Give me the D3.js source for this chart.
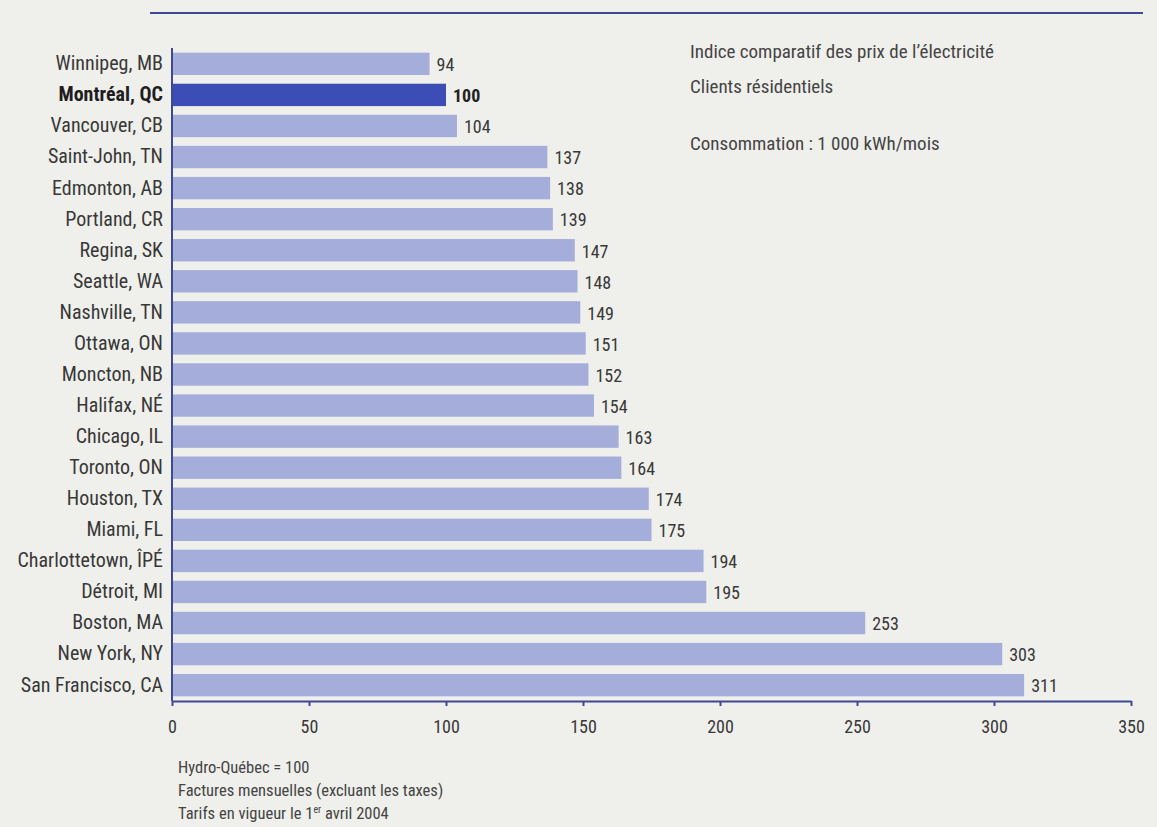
<!DOCTYPE html>
<html><head><meta charset="utf-8">
<script src="https://cdn.jsdelivr.net/npm/d3@7"></script>
<style>
html,body{margin:0;padding:0;background:#efefeb;}
svg{display:block;font-family:"Roboto Condensed","Liberation Sans Narrow","Arial Narrow",sans-serif;}
</style></head>
<body>
<svg id="chart" width="1157" height="827"></svg>
<script>
const cities = ["Winnipeg, MB","Montréal, QC","Vancouver, CB","Saint-John, TN","Edmonton, AB","Portland, CR","Regina, SK","Seattle, WA","Nashville, TN","Ottawa, ON","Moncton, NB","Halifax, NÉ","Chicago, IL","Toronto, ON","Houston, TX","Miami, FL","Charlottetown, ÎPÉ","Détroit, MI","Boston, MA","New York, NY","San Francisco, CA"];
const values = [94,100,104,137,138,139,147,148,149,151,152,154,163,164,174,175,194,195,253,303,311];
const highlight = "Montréal, QC";
const xTicks = [0,50,100,150,200,250,300,350];
const titleLines = ["Indice comparatif des prix de l’électricité","Clients résidentiels","Consommation : 1 000 kWh/mois"];
const noteLines = ["Hydro-Québec = 100","Factures mensuelles (excluant les taxes)"];

(function(){
const svg = d3.select("#chart");
const mLeft = 172, mRight = 1131, mTop = 48, mBottom = 701;
const x = d3.scaleLinear().domain([0,350]).range([mLeft,mRight]);
const y = d3.scaleBand().domain(cities).range([mTop,mBottom]).paddingInner(0.28).paddingOuter(0.15);

// top rule
svg.append("line").attr("x1",150).attr("x2",1143).attr("y1",13).attr("y2",13)
  .attr("stroke","#3d4a92").attr("stroke-width",2);

const data = cities.map((c,i)=>({c, v:values[i]}));
svg.append("g").selectAll("rect").data(data).join("rect")
  .attr("x",x(0)).attr("y",d=>y(d.c)).attr("width",d=>x(d.v)-x(0)).attr("height",y.bandwidth())
  .attr("fill",d=>d.c===highlight?"#3c4eb6":"#a5addb");

// value labels
svg.append("g").selectAll("text").data(data).join("text")
  .attr("x",d=>x(d.v)+7).attr("y",d=>y(d.c)+y.bandwidth()/2+1).attr("dy","0.35em")
  .attr("font-size",18).attr("fill",d=>d.c===highlight?"#222":"#383838")
  .attr("font-weight",d=>d.c===highlight?"bold":"normal")
  .text(d=>d.v);

// y axis
const ya = svg.append("g").attr("transform",`translate(${mLeft},0)`).call(d3.axisLeft(y).tickSize(0).tickPadding(9));
ya.attr("font-family",null);
ya.select(".domain").attr("stroke","#3d4a92").attr("stroke-width",2).attr("d",`M0,${mTop}V${mBottom}`);
ya.selectAll("text").attr("font-size",20)
  .attr("font-weight",d=>d===highlight?"bold":"normal")
  .attr("fill",d=>d===highlight?"#1e1e1e":"#383838");

// x axis
const xa = svg.append("g").attr("transform",`translate(0,${mBottom})`)
  .call(d3.axisBottom(x).tickValues(xTicks).tickSize(5).tickSizeOuter(0).tickPadding(14));
xa.attr("font-family",null);
xa.select(".domain").attr("stroke","#3d4a92").attr("stroke-width",2);
xa.selectAll(".tick line").attr("stroke","#3d4a92").attr("stroke-width",2);
xa.selectAll("text").attr("font-size",18).attr("fill","#383838");

// title block
const titleY = [58,93,150];
svg.append("g").attr("font-size",19).attr("fill","#444").selectAll("text").data(titleLines).join("text")
  .attr("x",690).attr("y",(d,i)=>titleY[i]).text(d=>d);

// notes
const nt = svg.append("g").attr("font-size",16.5).attr("fill","#444");
noteLines.forEach((l,i)=>{ nt.append("text").attr("x",178).attr("y",773+i*23).text(l); });
const last = nt.append("text").attr("x",178).attr("y",819);
last.append("tspan").text("Tarifs en vigueur le 1");
last.append("tspan").attr("font-size",10).attr("dy",-6).text("er");
last.append("tspan").attr("dy",6).text(" avril 2004");
})();
</script>
</body></html>
